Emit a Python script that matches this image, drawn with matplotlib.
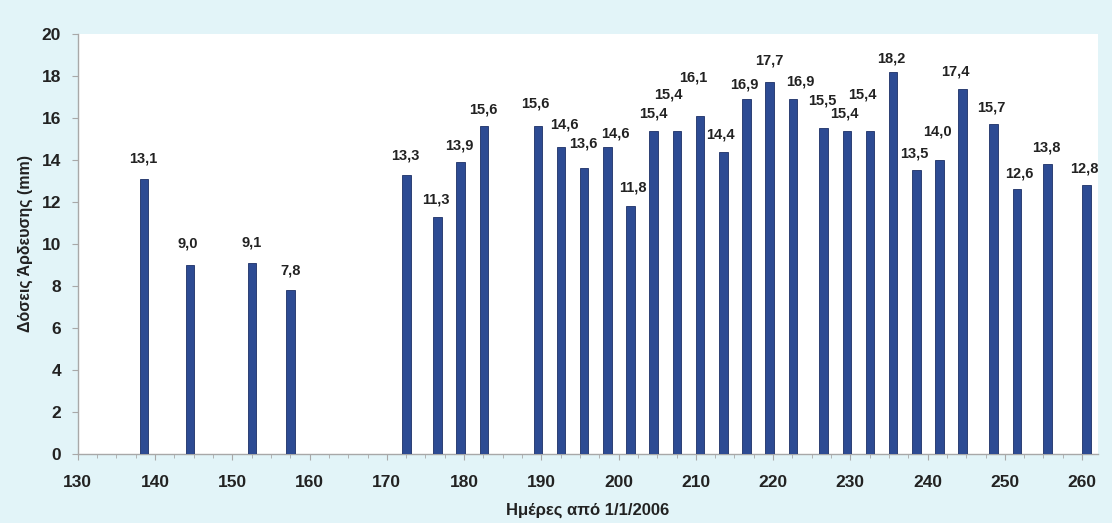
import numpy as np
import matplotlib
matplotlib.use('Agg')
import matplotlib.pyplot as plt
from matplotlib.ticker import MultipleLocator

plt.rcParams['font.family'] = ['Liberation Sans', 'DejaVu Sans']

# ημέρες από 1/1/2006 και δόσεις άρδευσης (mm)
days = [138, 144, 152, 157, 172, 176, 179, 182, 189, 192, 195, 198, 201, 204, 207, 210,
        213, 216, 219, 222, 226, 229, 232, 235, 238, 241, 244, 248, 251, 255, 260]
doses = [13.1, 9.0, 9.1, 7.8, 13.3, 11.3, 13.9, 15.6, 15.6, 14.6, 13.6, 14.6, 11.8, 15.4, 15.4, 16.1,
         14.4, 16.9, 17.7, 16.9, 15.5, 15.4, 15.4, 18.2, 13.5, 14.0, 17.4, 15.7, 12.6, 13.8, 12.8]

# μετατόπιση ετικετών (pixels) όπως στο πρωτότυπο
lab_dx = [0, -2, 0, 0, -1, -1, -1, 0, -2, 4, -1, 8, 3, 0, -8, -6,
          -2, -2, 0, 8, -1, -2, -7, -2, -2, -2, -7, -2, 3, -1, -2]
lab_dy = [20, 21, 20, 20, 19, 17, 17, 17, 23, 23, 25, 14, 19, 17, 36, 38,
          17, 15, 22, 18, 28, 17, 36, 13, 17, 28, 17, 17, 16, 17, 17]

fig = plt.figure(figsize=(11.12, 5.23), dpi=100)
fig.patch.set_facecolor('#e2f4f8')
ax = fig.add_axes([0.070, 0.132, 0.917, 0.803])
ax.set_facecolor('white')

ax.bar(days, doses, width=1.1, align='edge', color='#2d4b93', edgecolor='#1c2f66', linewidth=0.6, zorder=3)

for d, v, dx, dy in zip(days, doses, lab_dx, lab_dy):
    ax.annotate(('%.1f' % v).replace('.', ','), (d + 0.5, v), xytext=(dx * 0.72, dy * 0.72),
                textcoords='offset points', ha='center', va='center',
                fontsize=10.5, fontweight='bold', color='#222222')

ax.set_xlim(130, 262)
ax.set_ylim(0, 20)
ax.xaxis.set_minor_locator(MultipleLocator(2.5))
ax.yaxis.set_major_locator(MultipleLocator(2))
ax.set_xticks(np.arange(130, 261, 10))

for s in ['top', 'right']:
    ax.spines[s].set_visible(False)
for s in ['left', 'bottom']:
    ax.spines[s].set_color('#a8a8a8')
    ax.spines[s].set_linewidth(1.0)

ax.tick_params(axis='both', which='both', colors='#a8a8a8', labelcolor='#222222')
ax.tick_params(axis='x', which='major', length=4, labelsize=12.5, pad=11)
ax.tick_params(axis='x', which='minor', length=3)
ax.tick_params(axis='y', which='major', length=4, labelsize=12.5, pad=8)
for lbl in ax.get_xticklabels() + ax.get_yticklabels():
    lbl.set_fontweight('bold')

ax.set_xlabel('Ημέρες από 1/1/2006', fontsize=12, fontweight='bold', color='#222222', labelpad=9)
ax.set_ylabel('Δόσεις Άρδευσης (mm)', fontsize=11.5, fontweight='bold', color='#222222', labelpad=6)

fig.savefig('out.png', dpi=100, facecolor=fig.get_facecolor())
